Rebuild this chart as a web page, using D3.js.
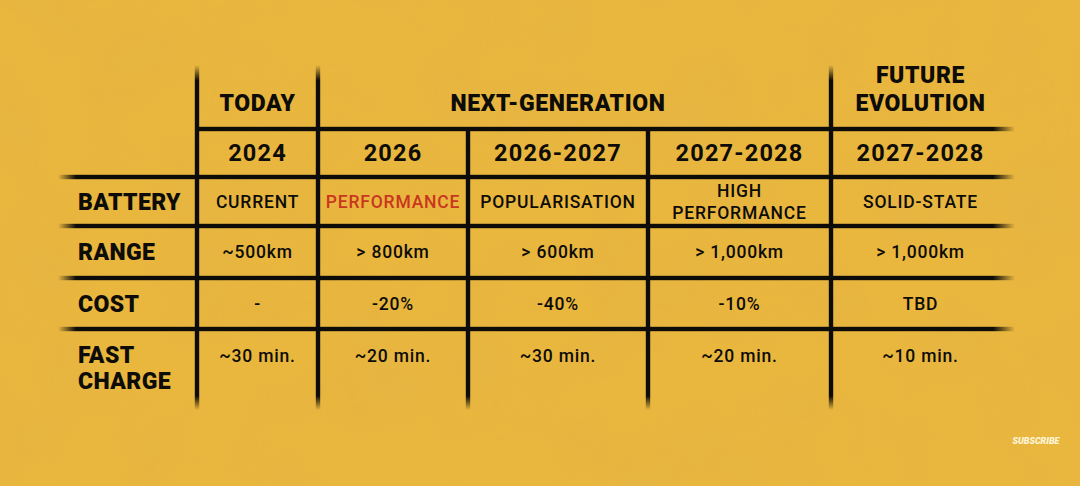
<!DOCTYPE html>
<html>
<head>
<meta charset="utf-8">
<script src="https://cdn.jsdelivr.net/npm/d3@7"></script>
<style>
  html, body { margin: 0; padding: 0; background: #E9B63E; }
  svg { display: block; }
</style>
</head>
<body>
<svg id="chart" width="1080" height="486"></svg>
<script>
// ---------- DATA ----------
const groups = [
  { name: ["TODAY"], cols: ["c0"] },
  { name: ["NEXT-GENERATION"], cols: ["c1", "c2", "c3"] },
  { name: ["FUTURE", "EVOLUTION"], cols: ["c4"] }
];
const columns = ["c0", "c1", "c2", "c3", "c4"];
const years = ["2024", "2026", "2026-2027", "2027-2028", "2027-2028"];
const rowLabels = [["BATTERY"], ["RANGE"], ["COST"], ["FAST", "CHARGE"]];
const battery = [["CURRENT"], ["PERFORMANCE"], ["POPULARISATION"], ["HIGH", "PERFORMANCE"], ["SOLID-STATE"]];
const range = [["~500km"], ["> 800km"], ["> 600km"], ["> 1,000km"], ["> 1,000km"]];
const cost = [["-"], ["-20%"], ["-40%"], ["-10%"], ["TBD"]];
const fastCharge = [["~30 min."], ["~20 min."], ["~30 min."], ["~20 min."], ["~10 min."]];
const highlight = { row: 0, col: 1 };   // "PERFORMANCE" shown in red

// ---------- LAYOUT ----------
const W = 1080, H = 486;
const colEdges = [197, 318, 468, 648, 831, 1010];
const rowEdges = [65, 129, 177, 226, 278, 329, 410];
const labelX = 78;
const ink = "#0d0c08";
const red = "#C9361F";
const bg = "#E9B63E";

const svg = d3.select("#chart");
const defs = svg.append("defs");

// background + subtle paper texture
svg.append("rect").attr("width", W).attr("height", H).attr("fill", bg);
const f = defs.append("filter").attr("id", "paper").attr("x", 0).attr("y", 0).attr("width", "100%").attr("height", "100%");
f.append("feTurbulence").attr("type", "fractalNoise").attr("baseFrequency", 0.012).attr("numOctaves", 3).attr("seed", 7);
f.append("feColorMatrix").attr("type", "matrix")
  .attr("values", "0 0 0 0 0.62  0 0 0 0 0.45  0 0 0 0 0.12  0 0 0 0.9 -0.38");
svg.append("rect").attr("width", W).attr("height", H).attr("filter", "url(#paper)").attr("opacity", 0.25);

// scales
const colIndex = d3.scaleOrdinal().domain(columns).range(d3.range(columns.length));
const xLeft = i => colEdges[i];
const xCenter = i => (colEdges[i] + colEdges[i + 1]) / 2;

// gradient helpers
function vGrad(id, fadeTop, fadeBot) {
  const g = defs.append("linearGradient").attr("id", id).attr("x1", 0).attr("y1", 0).attr("x2", 0).attr("y2", 1);
  if (fadeTop) {
    g.append("stop").attr("offset", 0).attr("stop-color", ink).attr("stop-opacity", 0);
    g.append("stop").attr("offset", 0.045).attr("stop-color", ink).attr("stop-opacity", 1);
  } else {
    g.append("stop").attr("offset", 0).attr("stop-color", ink).attr("stop-opacity", 1);
  }
  g.append("stop").attr("offset", fadeBot).attr("stop-color", ink).attr("stop-opacity", 1);
  g.append("stop").attr("offset", 1).attr("stop-color", ink).attr("stop-opacity", 0);
}
function hGrad(id, fadeLeftEnd, fadeRightStart) {
  const g = defs.append("linearGradient").attr("id", id).attr("x1", 0).attr("y1", 0).attr("x2", 1).attr("y2", 0);
  if (fadeLeftEnd > 0) {
    g.append("stop").attr("offset", 0).attr("stop-color", ink).attr("stop-opacity", 0);
    g.append("stop").attr("offset", fadeLeftEnd).attr("stop-color", ink).attr("stop-opacity", 1);
  } else {
    g.append("stop").attr("offset", 0).attr("stop-color", ink).attr("stop-opacity", 1);
  }
  g.append("stop").attr("offset", fadeRightStart).attr("stop-color", ink).attr("stop-opacity", 1);
  g.append("stop").attr("offset", 1).attr("stop-color", ink).attr("stop-opacity", 0);
}

const lineG = svg.append("g");
// vertical rules: group boundaries reach the top; inner sub-column boundaries start at row 1
const groupBoundaryCols = new Set(groups.map(gp => colIndex(gp.cols[0])));
const vLines = d3.range(columns.length).map(i => ({
  x: xLeft(i),
  y0: groupBoundaryCols.has(i) ? rowEdges[0] : rowEdges[1],
  y1: rowEdges[rowEdges.length - 1]
}));
vLines.forEach((d, i) => {
  const h = d.y1 - d.y0;
  vGrad("vg" + i, d.y0 === rowEdges[0], 1 - 14 / h);
  lineG.append("rect")
    .attr("x", d.x - 2.2).attr("y", d.y0).attr("width", 4.4).attr("height", h)
    .attr("fill", "url(#vg" + i + ")");
});

// horizontal rules
const hLines = rowEdges.slice(1, rowEdges.length - 1).map((y, i) => ({
  y, x0: i === 0 ? colEdges[0] : 58, x1: colEdges[colEdges.length - 1] + 5
}));
hLines.forEach((d, i) => {
  const w = d.x1 - d.x0;
  hGrad("hg" + i, i === 0 ? 0 : 18 / w, 1 - 22 / w);
  lineG.append("rect")
    .attr("x", d.x0).attr("y", d.y - 2.2).attr("width", w).attr("height", 4.4)
    .attr("fill", "url(#hg" + i + ")");
});

// text helpers
const headFont = "Roboto, 'Noto Sans', sans-serif";
function multiLine(sel, lines, x, yMid, lh, opts) {
  const n = lines.length;
  lines.forEach((t, k) => {
    sel.append("text")
      .attr("x", x)
      .attr("y", yMid + (k - (n - 1) / 2) * lh)
      .attr("dy", "0.36em")
      .attr("text-anchor", opts.anchor || "middle")
      .attr("font-family", headFont)
      .attr("font-weight", opts.weight)
      .attr("font-size", opts.size)
      .attr("letter-spacing", opts.ls || 0)
      .attr("fill", opts.fill || ink)
      .text(t);
  });
}

const textG = svg.append("g");

// group headers
groups.forEach(gp => {
  const idx = gp.cols.map(c => colIndex(c));
  // multi-column group centered over its middle sub-column
  const cx = idx.length > 1 ? xCenter(idx[Math.floor(idx.length / 2)]) : xCenter(idx[0]);
  const yMid = gp.name.length > 1 ? 89 : 103;
  multiLine(textG, gp.name, cx, yMid, 28, { weight: 900, size: 23, ls: 0.6 });
});

// years
years.forEach((y, i) => {
  multiLine(textG, [y], xCenter(i), (rowEdges[1] + rowEdges[2]) / 2, 0, { weight: 700, size: 23.5, ls: 1.2 });
});

// row labels
const bodyRows = [battery, range, cost, fastCharge];
const rowMid = r => (rowEdges[r + 2] + rowEdges[r + 3]) / 2;
rowLabels.forEach((lab, r) => {
  const yMid = lab.length > 1 ? 368 : rowMid(r);
  multiLine(textG, lab, labelX, yMid, 26, { anchor: "start", weight: 900, size: 23, ls: 0.4 });
});

// body values
bodyRows.forEach((row, r) => {
  row.forEach((lines, i) => {
    const isHi = r === highlight.row && i === highlight.col;
    const yMid = r === 3 ? 356 : rowMid(r);
    multiLine(textG, lines, xCenter(i), yMid, 22, {
      weight: 500, size: 17.5, ls: 0.8, fill: isHi ? red : ink
    });
  });
});

// watermark
textG.append("text")
  .attr("x", 1036).attr("y", 441).attr("dy", "0.35em")
  .attr("text-anchor", "middle")
  .attr("font-family", headFont).attr("font-weight", 900).attr("font-style", "italic")
  .attr("font-size", 9).attr("fill", "#FFF6DC")
  .text("SUBSCRIBE");
</script>
</body>
</html>
